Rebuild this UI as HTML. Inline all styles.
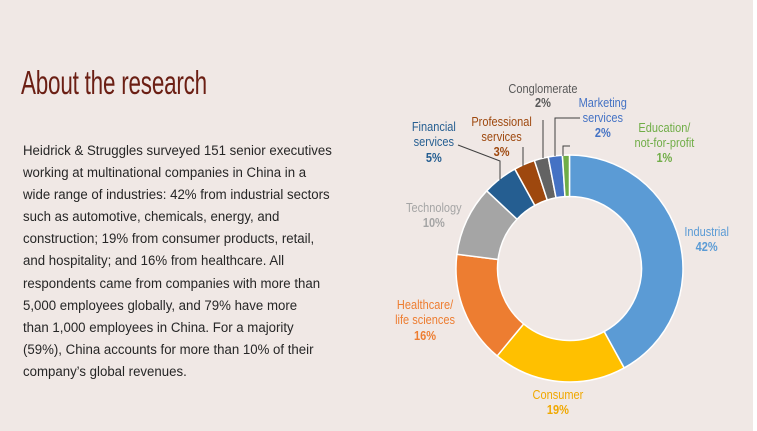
<!DOCTYPE html>
<html><head><meta charset="utf-8"><style>
html,body{margin:0;padding:0}
body{width:757px;height:431px;background:#f0e8e5;position:relative;overflow:hidden;font-family:"Liberation Sans",sans-serif}
.strip{position:absolute;left:753px;top:0;width:4px;height:431px;background:#fff}
h1{position:absolute;left:21px;top:64px;margin:0;font-weight:normal;font-size:33px;color:#6b1f14;transform:scaleX(0.68);transform-origin:left top;white-space:nowrap;letter-spacing:-0.3px}
.body{position:absolute;left:23px;top:140px;font-size:13.5px;line-height:22.1px;color:#262626;white-space:nowrap;transform:scaleX(0.98);transform-origin:left top}
svg{position:absolute;left:0;top:0}
svg text{font-family:"Liberation Sans",sans-serif;font-size:12.5px;text-anchor:middle}
</style></head><body>
<div class="strip"></div>
<h1>About the research</h1>
<div class="body">Heidrick &amp; Struggles surveyed 151 senior executives<br>working at multinational companies in China in a<br>wide range of industries: 42% from industrial sectors<br>such as automotive, chemicals, energy, and<br>construction; 19% from consumer products, retail,<br>and hospitality; and 16% from healthcare. All<br>respondents came from companies with more than<br>5,000 employees globally, and 79% have more<br>than 1,000 employees in China. For a majority<br>(59%), China accounts for more than 10% of their<br>company’s global revenues.</div>
<svg width="757" height="431" id="s">
<g id="d"></g>
<g fill="none" stroke="#404040" stroke-width="1">
<polyline points="458,145 500,161 500,180"/>
<polyline points="523,147 523,166"/>
<polyline points="543,120 543,158"/>
<polyline points="580,118 555,118 555,156"/>
<polyline points="570,146 563,146 563,156"/>
</g>
<g transform="scale(0.88,1)">
<text x="617" y="93" fill="#595959">Conglomerate</text>
<text x="617" y="107" fill="#595959" font-weight="bold">2%</text>
<text x="685" y="107" fill="#4472c4">Marketing</text>
<text x="685" y="122" fill="#4472c4">services</text>
<text x="685" y="137" fill="#4472c4" font-weight="bold">2%</text>
<text x="755" y="132" fill="#70ad47">Education/</text>
<text x="755" y="147" fill="#70ad47">not-for-profit</text>
<text x="755" y="162" fill="#70ad47" font-weight="bold">1%</text>
<text x="493" y="131" fill="#255e91">Financial</text>
<text x="493" y="146" fill="#255e91">services</text>
<text x="493" y="162" fill="#255e91" font-weight="bold">5%</text>
<text x="570" y="126" fill="#9e480e">Professional</text>
<text x="570" y="141" fill="#9e480e">services</text>
<text x="570" y="156" fill="#9e480e" font-weight="bold">3%</text>
<text x="493" y="212" fill="#a5a5a5">Technology</text>
<text x="493" y="227" fill="#a5a5a5" font-weight="bold">10%</text>
<text x="803" y="236" fill="#5b9bd5">Industrial</text>
<text x="803" y="251" fill="#5b9bd5" font-weight="bold">42%</text>
<text x="483" y="309" fill="#ed7d31">Healthcare/</text>
<text x="483" y="324" fill="#ed7d31">life sciences</text>
<text x="483" y="340" fill="#ed7d31" font-weight="bold">16%</text>
<text x="634" y="399" fill="#f0a800">Consumer</text>
<text x="634" y="414" fill="#f0a800" font-weight="bold">19%</text>
</g>
</svg>
<script>
var segs=[[42,"#5b9bd5"],[19,"#ffc000"],[16,"#ed7d31"],[10,"#a5a5a5"],[5,"#255e91"],[3,"#9e480e"],[2,"#636363"],[2,"#4472c4"],[1,"#70ad47"]];
var cx=569.5,cy=268.5,R=113.5,r=72,a=0,h="";
function p(rad,ang){return [cx+rad*Math.sin(ang),cy-rad*Math.cos(ang)];}
segs.forEach(function(s){var a0=a*2*Math.PI/100,a1=(a+s[0])*2*Math.PI/100;a+=s[0];
var L=(a1-a0)>Math.PI?1:0,o0=p(R,a0),o1=p(R,a1),i1=p(r,a1),i0=p(r,a0);
h+='<path d="M'+o0+' A'+R+','+R+' 0 '+L+' 1 '+o1+' L'+i1+' A'+r+','+r+' 0 '+L+' 0 '+i0+' Z" fill="'+s[1]+'" stroke="#fff" stroke-width="1.5"/>';});
document.getElementById("d").innerHTML=h;
</script>
</body></html>
